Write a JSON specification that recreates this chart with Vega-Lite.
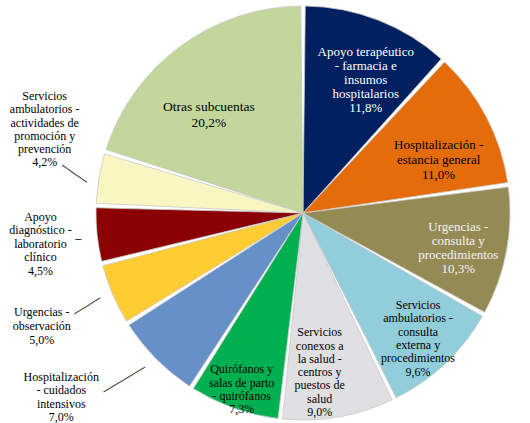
{
  "$schema": "https://vega.github.io/schema/vega-lite/v6.json",
  "width": 454,
  "height": 420,
  "autosize": {"type": "none"},
  "padding": {"left": 76, "right": 0, "top": 3, "bottom": 0},
  "background": "white",
  "config": {"view": {"stroke": null}, "text": {"font": "Liberation Serif", "align": "center", "baseline": "middle", "lineBreak": "\n", "color": "#000000"}},
  "data": {
    "values": [
      {"order": 1, "key": "Apoyo terapéutico - farmacia e insumos hospitalarios", "label": "Apoyo terapéutico\n- farmacia e\ninsumos\nhospitalarios", "value": 11.8},
      {"order": 2, "key": "Hospitalización - estancia general", "label": "Hospitalización  -\nestancia  general", "value": 11.0},
      {"order": 3, "key": "Urgencias - consulta y procedimientos", "label": "Urgencias -\nconsulta  y\nprocedimientos", "value": 10.3},
      {"order": 4, "key": "Servicios ambulatorios - consulta externa y procedimientos", "label": "Servicios\nambulatorios -\nconsulta\nexterna  y\nprocedimientos", "value": 9.6},
      {"order": 5, "key": "Servicios conexos a la salud - centros y puestos de salud", "label": "Servicios\nconexos a\nla salud -\ncentros y\npuestos de\nsalud", "value": 9.0},
      {"order": 6, "key": "Quirófanos y salas de parto - quirófanos", "label": "Quirófanos y\nsalas de parto\n- quirófanos", "value": 7.3},
      {"order": 7, "key": "Hospitalización - cuidados intensivos", "label": "Hospitalización\n- cuidados\nintensivos", "value": 7.0},
      {"order": 8, "key": "Urgencias - observación", "label": "Urgencias -\nobservación", "value": 5.0},
      {"order": 9, "key": "Apoyo diagnóstico - laboratorio clínico", "label": "Apoyo\ndiagnóstico -\nlaboratorio\nclínico", "value": 4.5},
      {"order": 10, "key": "Servicios ambulatorios - actividades de promoción y prevención", "label": "Servicios\nambulatorios -\nactividades de\npromoción y\nprevención", "value": 4.2},
      {"order": 11, "key": "Otras subcuentas", "label": "Otras subcuentas", "value": 20.2}
    ]
  },
  "transform": [
    {"calculate": "datum.label + '\\n' + replace(format(datum.value, '.1f'), '.', ',') + '%'", "as": "txt"}
  ],
  "encoding": {
    "theta": {"field": "value", "type": "quantitative", "stack": true, "scale": {"nice": false}},
    "order": {"field": "order", "type": "quantitative"}
  },
  "layer": [
    {
      "mark": {"type": "arc", "outerRadius": 207, "padAngle": 0.022, "stroke": "#c8c8c8", "strokeWidth": 0.8},
      "encoding": {
        "color": {
          "field": "key", "type": "nominal", "legend": null,
          "scale": {
            "domain": [
              "Apoyo terapéutico - farmacia e insumos hospitalarios",
              "Hospitalización - estancia general",
              "Urgencias - consulta y procedimientos",
              "Servicios ambulatorios - consulta externa y procedimientos",
              "Servicios conexos a la salud - centros y puestos de salud",
              "Quirófanos y salas de parto - quirófanos",
              "Hospitalización - cuidados intensivos",
              "Urgencias - observación",
              "Apoyo diagnóstico - laboratorio clínico",
              "Servicios ambulatorios - actividades de promoción y prevención",
              "Otras subcuentas"
            ],
            "range": ["#002060", "#E46C0A", "#948A54", "#92CDDC", "#E0DFE2", "#00B050", "#6690C8", "#FFCC33", "#8B0000", "#FAF6C2", "#C3D69B"]
          }
        }
      }
    },
    {
      "mark": {"type": "text", "radius": 173, "dx": 0, "dy": 0, "fontSize": 13, "lineHeight": 14, "color": "#ffffff"},
      "encoding": {"text": {"condition": {"test": "datum.order == 1", "field": "txt"}, "value": ""}}
    },
    {
      "mark": {"type": "text", "radius": 152, "dx": 1, "dy": 3, "fontSize": 13, "lineHeight": 15},
      "encoding": {"text": {"condition": {"test": "datum.order == 2", "field": "txt"}, "value": ""}}
    },
    {
      "mark": {"type": "text", "radius": 156, "dx": 2, "dy": -15, "fontSize": 13, "lineHeight": 14, "color": "#f4f4f4"},
      "encoding": {"text": {"condition": {"test": "datum.order == 3", "field": "txt"}, "value": ""}}
    },
    {
      "mark": {"type": "text", "radius": 147, "dx": 14, "dy": -15, "fontSize": 12, "lineHeight": 13.4},
      "encoding": {"text": {"condition": {"test": "datum.order == 4", "field": "txt"}, "value": ""}}
    },
    {
      "mark": {"type": "text", "radius": 120, "dx": -4, "dy": 1, "fontSize": 12, "lineHeight": 13.3},
      "encoding": {"text": {"condition": {"test": "datum.order == 5", "field": "txt"}, "value": ""}}
    },
    {
      "mark": {"type": "text", "radius": 169, "dx": -5, "dy": -3, "fontSize": 12, "lineHeight": 13.3},
      "encoding": {"text": {"condition": {"test": "datum.order == 6", "field": "txt"}, "value": ""}}
    },
    {
      "mark": {"type": "text", "radius": 280, "dx": -43, "dy": -33, "fontSize": 12, "lineHeight": 13.2},
      "encoding": {"text": {"condition": {"test": "datum.order == 7", "field": "txt"}, "value": ""}}
    },
    {
      "mark": {"type": "text", "radius": 270, "dx": -13, "dy": -7, "fontSize": 12, "lineHeight": 14},
      "encoding": {"text": {"condition": {"test": "datum.order == 8", "field": "txt"}, "value": ""}}
    },
    {
      "mark": {"type": "text", "radius": 264, "dx": 0, "dy": -24, "fontSize": 12, "lineHeight": 13.5},
      "encoding": {"text": {"condition": {"test": "datum.order == 9", "field": "txt"}, "value": ""}}
    },
    {
      "mark": {"type": "text", "radius": 262, "dx": 0, "dy": -73, "fontSize": 12, "lineHeight": 13.2},
      "encoding": {"text": {"condition": {"test": "datum.order == 10", "field": "txt"}, "value": ""}}
    },
    {
      "mark": {"type": "text", "radius": 140, "dx": -11, "dy": 7, "fontSize": 13.5, "lineHeight": 15.5},
      "encoding": {"text": {"condition": {"test": "datum.order == 11", "field": "txt"}, "value": ""}}
    },
    {
      "mark": {"type": "text", "radius": 232, "dx": 0, "dy": 0, "angle": 35, "font": "DejaVu Sans Mono", "fontSize": 10, "color": "#222222"},
      "encoding": {"text": {"condition": {"test": "datum.order == 10", "value": "─────"}, "value": ""}}
    },
    {
      "mark": {"type": "text", "radius": 226, "dx": 0, "dy": 3, "angle": 0, "font": "DejaVu Sans Mono", "fontSize": 10, "color": "#222222"},
      "encoding": {"text": {"condition": {"test": "datum.order == 9", "value": "─"}, "value": ""}}
    },
    {
      "mark": {"type": "text", "radius": 235, "dx": 0, "dy": 1, "angle": -32, "font": "DejaVu Sans Mono", "fontSize": 10, "color": "#222222"},
      "encoding": {"text": {"condition": {"test": "datum.order == 8", "value": "─────"}, "value": ""}}
    },
    {
      "mark": {"type": "text", "radius": 240, "dx": -6, "dy": -6, "angle": -31, "font": "DejaVu Sans Mono", "fontSize": 10, "color": "#222222"},
      "encoding": {"text": {"condition": {"test": "datum.order == 7", "value": "────────"}, "value": ""}}
    }
  ]
}
